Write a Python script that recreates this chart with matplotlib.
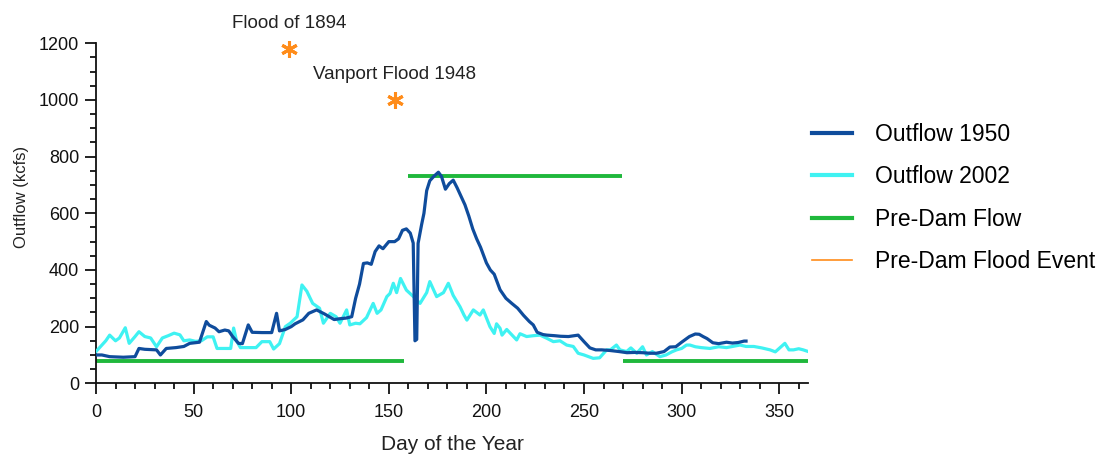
import numpy as np
import matplotlib
matplotlib.use("Agg")
import matplotlib.pyplot as plt
from matplotlib.ticker import MultipleLocator
from matplotlib.lines import Line2D

plt.rcParams['font.family'] = ['Liberation Sans', 'DejaVu Sans']

# ---- data ----
days_1950 = [0, 3, 7, 14, 20, 22, 25, 31, 33, 36, 41, 45, 48, 53, 56.5, 58, 61, 63, 66, 68,
             70, 73, 75, 78, 80, 85, 90, 92.5, 94, 97, 100, 102, 106, 109, 113, 117, 122, 125,
             128, 131, 133, 135, 137, 139, 141, 143, 145, 147, 150, 153, 155, 157, 159, 161,
             162.5, 163.4, 164.3, 165, 166.8, 168, 169.4, 171, 173, 175.4, 177, 179, 181, 183,
             185, 187, 189, 191, 193, 195, 197, 200, 202, 204, 207, 210, 213, 216, 219, 222,
             224, 226, 229, 231, 235, 238, 242, 245, 247, 250, 253, 256, 259, 263, 268, 272,
             276, 280, 284, 287, 291, 294, 297, 300, 302, 304, 307, 309, 311, 313, 316, 319,
             323, 326, 329, 332, 333]
flow_1950 = [100, 100, 94, 92, 94, 123, 120, 118, 100, 123, 126, 130, 141, 145, 218, 205, 195,
             182, 188, 185, 165, 141, 140, 206, 180, 179, 179, 247, 185, 190, 200, 210, 224,
             247, 259, 245, 225, 228, 230, 235, 300, 350, 423, 425, 420, 465, 485, 475, 500,
             500, 510, 540, 545, 530, 495, 150, 155, 494, 560, 600, 680, 715, 730, 745, 730,
             685, 705, 717, 690, 660, 630, 590, 545, 510, 480, 425, 400, 385, 330, 300, 282,
             265, 240, 218, 206, 180, 172, 170, 168, 166, 165, 168, 170, 147, 125, 118, 118,
             116, 112, 108, 109, 108, 106, 106, 112, 128, 129, 145, 155, 165, 174, 173, 165,
             158, 143, 140, 145, 142, 144, 149, 149]

days_2002 = [0, 3, 5, 7, 10, 12, 15, 17, 20, 22, 25, 28, 31, 34, 37, 40, 43, 45, 48, 51, 54,
             57, 60, 62, 66, 69, 70.5, 72, 74, 78, 82, 85, 89, 91, 94, 97, 99.5, 103, 105.5,
             108, 111, 114.5, 116.5, 120, 123, 125, 128.4, 130, 133, 135.2, 138.6, 142, 144,
             146, 149, 150.6, 152.3, 154, 156, 159, 162.6, 166, 169.4, 171, 174.5, 178, 180.5,
             183, 186.5, 188.5, 190, 193.3, 196.7, 198.4, 201.8, 204, 205.2, 207, 208, 210.4,
             213.8, 215.5, 217.2, 220.6, 224, 227.5, 230.9, 234.3, 237.7, 241.1, 244.5, 247,
             250, 254.7, 258, 261.6, 263.5, 266.6, 268.4, 271.8, 274, 277, 280, 282, 285,
             288.9, 292, 295, 297.4, 300, 302.5, 304.3, 307, 310, 314.5, 319, 323, 329.9, 333,
             337, 341, 345.3, 348, 352.9, 355, 357.3, 360, 362.3, 364.9]
flow_2002 = [112, 135, 150, 170, 150, 160, 196, 141, 165, 182, 165, 160, 129, 160, 168, 177,
             171, 150, 153, 148, 150, 164, 164, 123, 123, 123, 195, 150, 126, 126, 126, 147,
             147, 121, 140, 200, 212, 235, 347, 325, 282, 265, 212, 247, 235, 212, 259, 206,
             212, 210, 232, 282, 247, 259, 306, 317, 353, 320, 370, 329, 306, 282, 320, 359,
             306, 320, 353, 310, 270, 241, 223, 259, 241, 259, 200, 176, 210, 194, 170, 190,
             165, 153, 175, 165, 168, 170, 159, 147, 150, 135, 130, 106, 100, 88, 90, 118,
             118, 135, 118, 112, 125, 106, 129, 100, 112, 94, 100, 111, 118, 123, 135, 135,
             129, 126, 123, 129, 126, 135, 130, 130, 125, 118, 111, 141, 118, 118, 122, 118, 112]

predam_start = [0, 160, 270]
predam_end = [158, 269.5, 365]
predam_flow = [80, 730, 80]

flood_days = [99, 153]
flood_flow = [1180, 1000]
flood_labels = ["Flood of 1894", "Vanport Flood 1948"]

# ---- figure ----
W, H = 1104, 457
fig = plt.figure(figsize=(W / 100, H / 100), dpi=100)
ax = fig.add_axes([96 / W, 1 - 383.3 / H, (808.5 - 96) / W, (383.3 - 43.3) / H])

c1950 = "#0f4c9c"
c2002 = "#3ff2f2"
cgreen = "#1fb83c"
corange = "#ff8c1a"
ctext = "#222222"

ax.plot(days_2002, flow_2002, color=c2002, lw=2.3, label="Outflow 2002", zorder=3)
ax.plot(days_1950, flow_1950, color=c1950, lw=2.3, label="Outflow 1950", zorder=4)
for i, (s, e, f) in enumerate(zip(predam_start, predam_end, predam_flow)):
    ax.plot([s, e], [f, f], color=cgreen, lw=2.8, solid_capstyle='butt',
            label="Pre-Dam Flow" if i == 0 else None, zorder=2)

ax.plot(flood_days, flood_flow, ls='none', marker=(6, 2, 0), ms=12, mew=2.2,
        color=corange, zorder=5, clip_on=False)
for d, f, t in zip(flood_days, flood_flow, flood_labels):
    ax.text(d, f + 90, t, ha='center', va='center', fontsize=13.5, color=ctext,
            clip_on=False)

ax.set_xlim(0, 365)
ax.set_ylim(0, 1200)
ax.xaxis.set_major_locator(MultipleLocator(50))
ax.xaxis.set_minor_locator(MultipleLocator(10))
ax.yaxis.set_major_locator(MultipleLocator(200))
ax.yaxis.set_minor_locator(MultipleLocator(50))
for s in ['top', 'right']:
    ax.spines[s].set_visible(False)
for s in ['left', 'bottom']:
    ax.spines[s].set_linewidth(1.3)
    ax.spines[s].set_color('#111111')
ax.tick_params(which='major', direction='out', length=8, width=1.3, labelsize=13,
               colors='#111111')
ax.tick_params(which='minor', direction='out', length=4, width=1.3, colors='#111111')
ax.tick_params(axis='x', which='major', pad=7)
ax.tick_params(axis='y', which='major', pad=4)

fig.text(452 / W, 1 - 445 / H, "Day of the Year", ha='center', va='center',
         fontsize=15, color=ctext)
fig.text(22 / W, 1 - 197 / H, "Outflow (kcfs)", ha='center', va='center', rotation=90,
         fontsize=12, color=ctext)

# legend (order as in reference)
handles = [Line2D([], [], color=c1950, lw=3),
           Line2D([], [], color=c2002, lw=3),
           Line2D([], [], color=cgreen, lw=3),
           Line2D([], [], color=corange, lw=1.2)]
labels = ["Outflow 1950", "Outflow 2002", "Pre-Dam Flow", "Pre-Dam Flood Event"]
fig.legend(handles, labels, loc='upper left', bbox_to_anchor=(812 / W, 1 - 123 / H),
           frameon=False, fontsize=16.5, handlelength=1.75, handletextpad=1.0,
           labelspacing=0.85, borderpad=0, borderaxespad=0)

fig.savefig("out.png", dpi=100)
